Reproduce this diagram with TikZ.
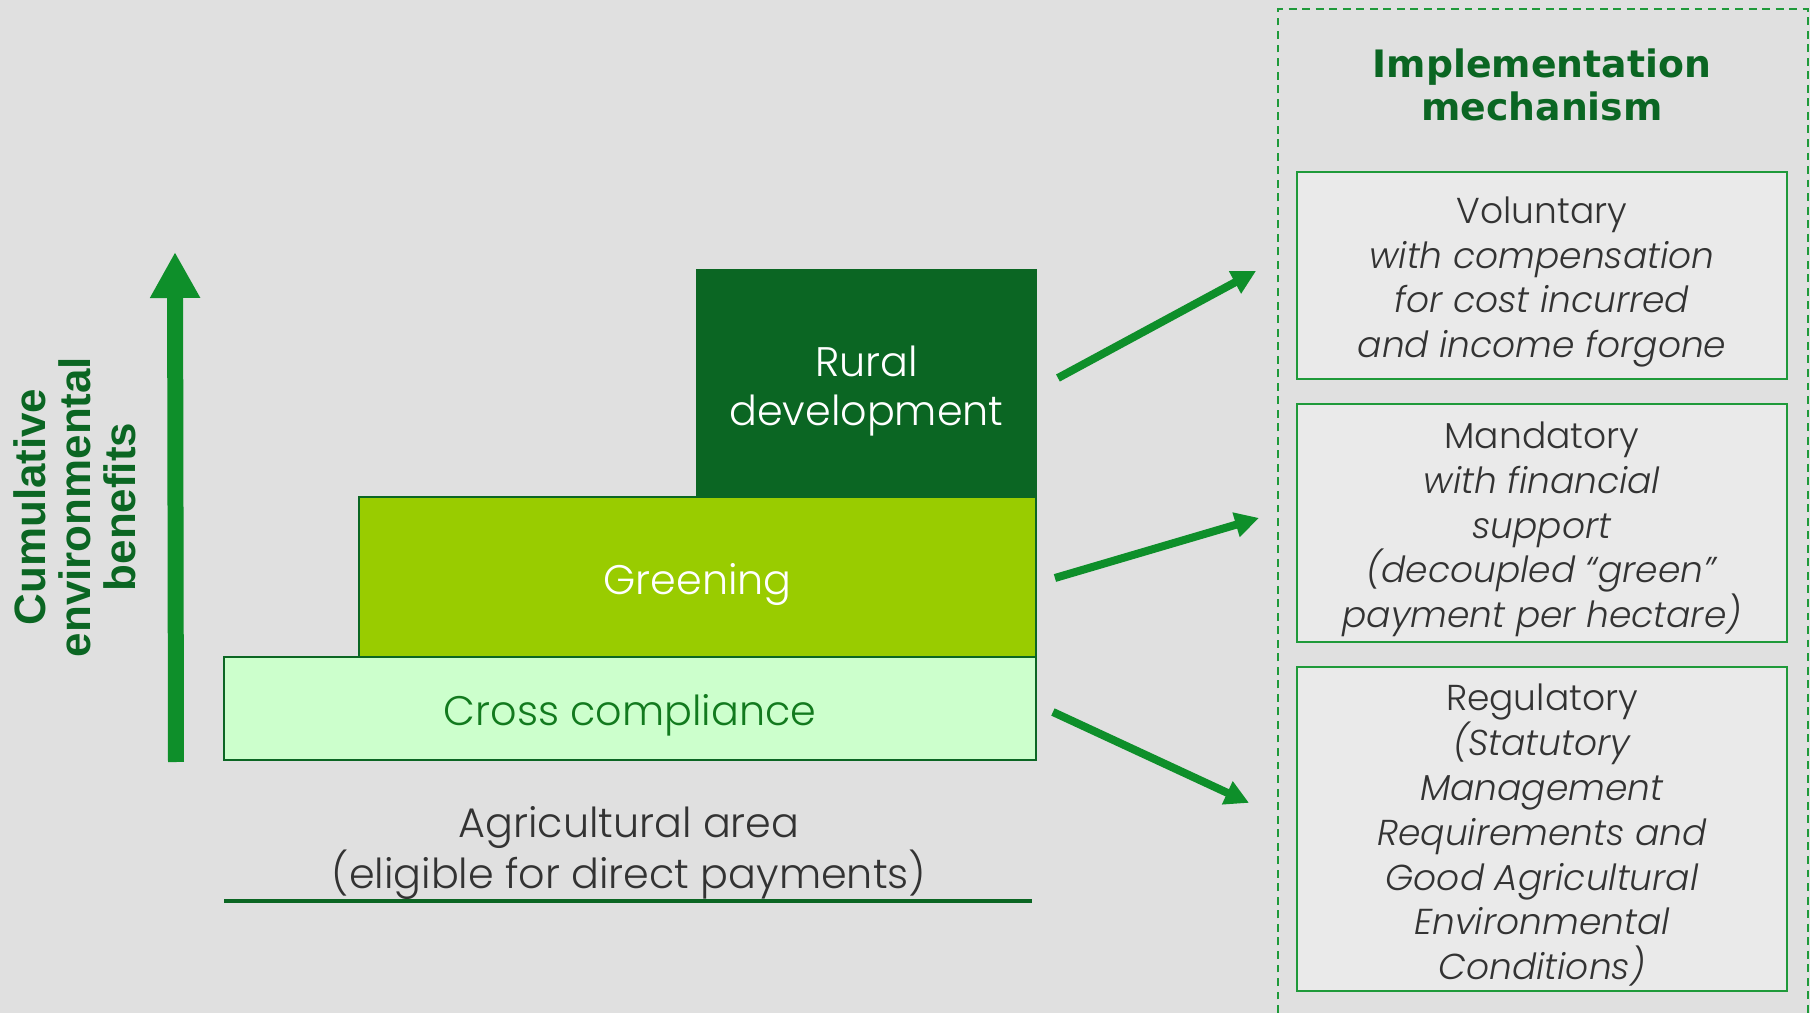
\documentclass[tikz,border=0pt]{standalone}
\usepackage{fontspec}
\IfFontExistsTF{Poppins Light}
  {\setmainfont{Poppins Light}[ItalicFont={Poppins Light Italic}]}
  {\setmainfont{Poppins}}
\newfontfamily\titlefont{DejaVu Sans}
\newfontfamily\axisfont{Liberation Sans}
\usepackage{xcolor}
\usetikzlibrary{positioning, arrows.meta}

\definecolor{bggray}{HTML}{E0E0E0}
\definecolor{boxgray}{HTML}{EAEAEA}
\definecolor{darkgreen}{HTML}{0B6623}
\definecolor{limegreen}{HTML}{99CC00}
\definecolor{palegreen}{HTML}{CCFFCC}
\definecolor{crossgreen}{HTML}{127A1E}
\definecolor{arrowgreen}{HTML}{0E8F2A}
\definecolor{framegreen}{HTML}{1F9A3A}
\definecolor{textgray}{HTML}{333333}

% taller first row, to sit the text a little lower in its box
\newcommand{\rowlift}{\rule{0pt}{1.1em}}

\begin{document}
\begin{tikzpicture}[x=0.02cm, y=-0.02cm]
			\tikzstyle{layer}=[
			draw=darkgreen,
			line width=1.2pt,
			inner sep=0pt,
			outer sep=0pt,
			align=center,
			font=\fontsize{23.5}{28}\selectfont
			]
			\tikzstyle{mechbox}=[
			draw=framegreen,
			line width=1.1pt,
			fill=boxgray,
			minimum width=9.8cm,
			inner sep=0pt,
			outer sep=0pt,
			align=center,
			text=textgray,
			font=\fontsize{20.5}{25.5}\selectfont
			]
			\tikzstyle{mecharrow}=[
			arrowgreen,
			line width=0.16cm,
			-{Triangle[length=0.48cm,width=0.48cm]}
			]
			\useasboundingbox (0,0) rectangle (1810,1013);
			\fill[bggray] (0,0) rectangle (1810,1013);
			% stacked instruments
			\node[layer, fill=palegreen, text=crossgreen, minimum width=16.24cm, minimum height=2.06cm] (cross) at (630,708.5) {\rowlift Cross compliance};
			\node[layer, fill=limegreen, text=white, minimum width=13.54cm, minimum height=3.2cm] (greening) at (697.5,577) {\rowlift Greening};
			\node[layer, fill=darkgreen, text=white, minimum width=6.78cm, minimum height=4.54cm] (rural) at (866.5,383.5) {\rowlift Rural\\development};
			\node[font=\fontsize{23.5}{29.5}\selectfont, text=textgray, align=center] (area) at (629,853) {Agricultural area\\(eligible for direct payments)};
			\coordinate (areaL) at (224,901);
			\coordinate (areaR) at (1032,901);
			\draw[darkgreen, line width=2.3pt] (areaL) -- (areaR);
			% benefit axis
			\coordinate (axisfoot) at (176,762);
			\coordinate (axistip) at (175,252);
			\draw[arrowgreen, line width=0.32cm, -{Triangle[length=0.92cm,width=0.94cm]}] (axisfoot) -- (axistip);
			\node[rotate=90, font=\axisfont\bfseries\fontsize{25}{25.5}\selectfont, text=darkgreen, align=center] (benefits) at (75,507) {Cumulative\\environmental\\benefits};
			% mechanisms
			\draw[framegreen, line width=1.1pt, dash pattern=on 4.5pt off 3.2pt] (1278,1013) |- (1808,9) -- (1808,1013);
			\node[font=\titlefont\bfseries\fontsize{21.5}{24.5}\selectfont, text=darkgreen, align=center] (title) at (1542,85) {Implementation\\mechanism};
			\node[mechbox, minimum height=4.14cm] (voluntary) at (1542,275.5) {\rowlift Voluntary\\\textit{with compensation}\\\textit{for cost incurred}\\\textit{and income forgone}};
			\node[mechbox, minimum height=4.76cm, below=0.5cm of voluntary] (mandatory) {\rowlift Mandatory\\\textit{with financial}\\\textit{support}\\\textit{(decoupled “green”}\\\textit{payment per hectare)}};
			\node[mechbox, minimum height=6.48cm, below=0.5cm of mandatory] (regulatory) {\rowlift Regulatory\\\textit{(Statutory}\\\textit{Management}\\\textit{Requirements and}\\\textit{Good Agricultural}\\\textit{Environmental}\\\textit{Conditions)}};
			%
			\draw[mecharrow] ([shift={(22,-5.5)}]rural.east) -- ([shift={(-41,-4.5)}]voluntary.west);
			\draw[mecharrow] ([shift={(19,1)}]greening.east) -- ([shift={(-38,-5)}]mandatory.west);
			\draw[mecharrow] ([shift={(17,3.5)}]cross.east) -- ([shift={(-48,-26)}]regulatory.west);
		\end{tikzpicture}
\end{document}
